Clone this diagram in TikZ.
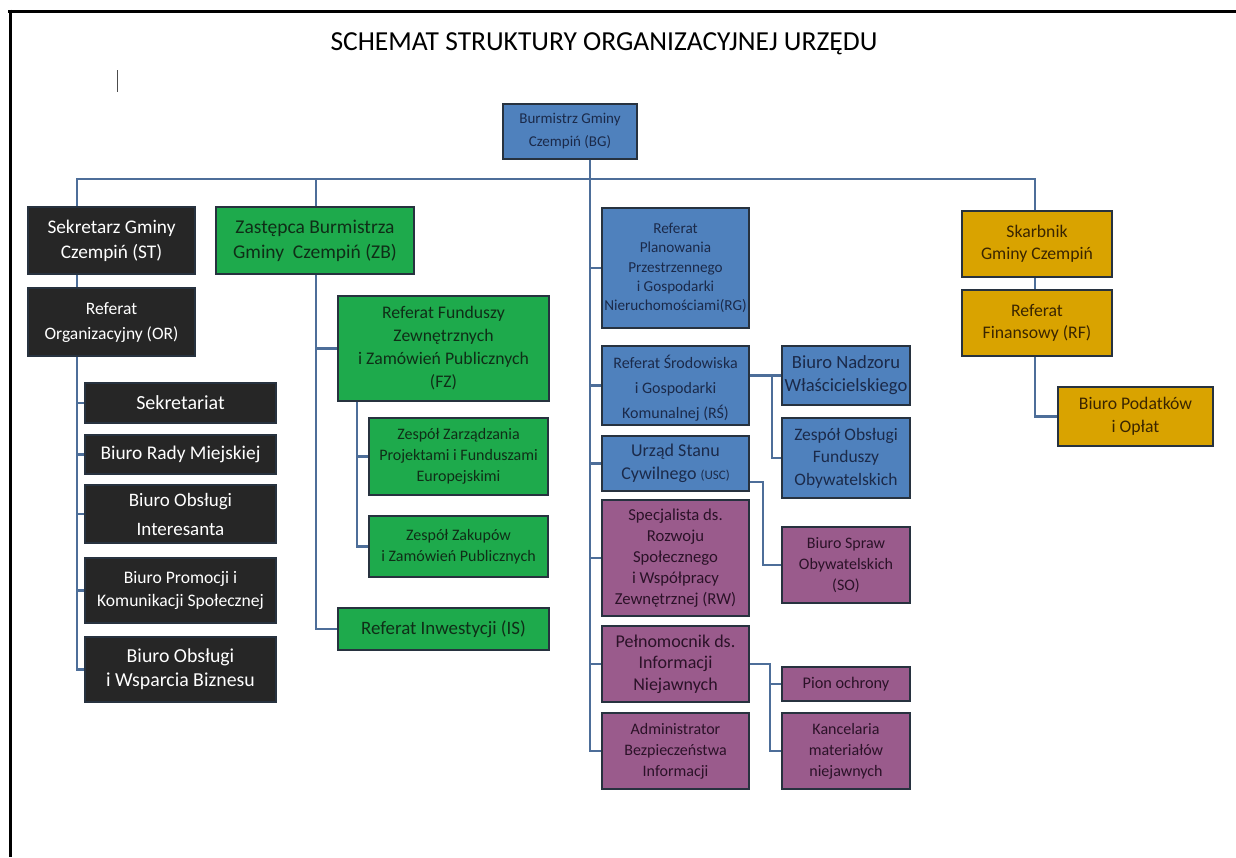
\documentclass[tikz,border=0pt]{standalone}
\usepackage{fontspec}
\setmainfont{Carlito}
\definecolor{boxline}{HTML}{27323F}
\definecolor{connc}{HTML}{4D6E99}
\definecolor{bkfill}{HTML}{262626}
\definecolor{grfill}{HTML}{1EAA4C}
\definecolor{grtext}{HTML}{0F2E17}
\definecolor{blfill}{HTML}{4F81BD}
\definecolor{bltext}{HTML}{1B2A4A}
\definecolor{pufill}{HTML}{9A5B8C}
\definecolor{putext}{HTML}{2B1228}
\definecolor{gofill}{HTML}{D9A300}
\definecolor{gotext}{HTML}{3A2500}
\newcommand\ubox[7]{\node[#6, minimum width={(#4)-(#2)}, minimum height={(#5)-(#3)}] (#1) at ({((#2)+(#4))/2},{((#3)+(#5))/2}) {#7};}
\newcommand\fsz[2]{\fontsize{#1}{#2}\selectfont}
\begin{document}
\begin{tikzpicture}[x=1pt,y=-1pt,
  box/.style={draw=boxline, line width=1.9pt, inner sep=1pt, align=center},
  bk/.style={box, fill=bkfill, text=white},
  gr/.style={box, fill=grfill, text=grtext},
  bl/.style={box, fill=blfill, text=bltext},
  pu/.style={box, fill=pufill, text=putext},
  go/.style={box, fill=gofill, text=gotext},
  conn/.style={draw=connc, line width=2.8pt}]
\useasboundingbox[fill=white] (0,0) rectangle (1236,857);
% frame
\draw[line width=3pt] (8,11) -- (1236,11);
\draw[line width=3pt] (10,9.5) -- (10,857);
\draw[line width=1pt, black!70] (117,70) -- (117,92);
\node[font=\fsz{27.5}{33}] (title) at (604,44) {SCHEMAT STRUKTURY ORGANIZACYJNEJ URZĘDU};
% boxes
\ubox{BG}{503}{104}{637}{159}{bl, font=\fsz{15}{23}}{Burmistrz Gminy\\Czempiń (BG)}
\ubox{ST}{28}{207}{195}{274}{bk, font=\fsz{19.3}{25}}{Sekretarz Gminy\\Czempiń (ST)}
\ubox{OR}{28}{288}{195}{356}{bk, font=\fsz{17.5}{25}}{Referat\\Organizacyjny (OR)}
\ubox{SEK}{85}{383}{276}{423}{bk, font=\fsz{20}{24}}{Sekretariat}
\ubox{BRM}{85}{435}{276}{474}{bk, font=\fsz{19.4}{24}}{Biuro Rady Miejskiej}
\ubox{BOI}{85}{485}{276}{543}{bk, font=\fsz{19}{29}}{Biuro Obsługi\\Interesanta}
\ubox{BPK}{85}{558}{276}{623}{bk, font=\fsz{17.6}{23}}{Biuro Promocji i\\Komunikacji Społecznej}
\ubox{BOW}{85}{637}{276}{702}{bk, font=\fsz{19.8}{24}}{Biuro Obsługi\\i Wsparcia Biznesu}
\ubox{ZB}{216}{207}{414}{274}{gr, font=\fsz{19.5}{25}}{Zastępca Burmistrza\\Gminy\ \ Czempiń (ZB)}
\ubox{FZ}{338}{296}{549}{401}{gr, font=\fsz{17.7}{23}}{Referat Funduszy\\Zewnętrznych\\i Zamówień Publicznych\\(FZ)}
\ubox{ZZP}{369}{418}{548}{495}{gr, font=\fsz{16}{21}}{Zespół Zarządzania\\Projektami i Funduszami\\Europejskimi}
\ubox{ZZ}{369}{516}{548}{577}{gr, font=\fsz{16}{21}}{Zespół Zakupów\\i Zamówień Publicznych}
\ubox{IS}{338}{608}{549}{650}{gr, font=\fsz{18.9}{22}}{Referat Inwestycji (IS)}
\ubox{RG}{602}{208}{749}{328}{bl, font=\fsz{15.2}{19.3}}{Referat\\Planowania\\Przestrzennego\\i Gospodarki\\Nieruchomościami(RG)}
\ubox{RS}{602}{346}{749}{425}{bl, font=\fsz{16}{25}}{\rule{0pt}{18pt}Referat Środowiska\\i Gospodarki\\Komunalnej (RŚ)}
\ubox{USC}{602}{436}{749}{491}{bl, font=\fsz{18}{23}}{Urząd Stanu\\Cywilnego {\fsz{13}{15}(USC)}}
\ubox{RW}{602}{500}{749}{616}{pu, font=\fsz{16.7}{21}}{Specjalista ds.\\Rozwoju\\Społecznego\\i Współpracy\\Zewnętrznej (RW)}
\ubox{PN}{602}{626}{749}{702}{pu, font=\fsz{18}{21.5}}{Pełnomocnik ds.\\Informacji\\Niejawnych}
\ubox{ABI}{602}{713}{749}{789}{pu, font=\fsz{16}{21}}{Administrator\\Bezpieczeństwa\\Informacji}
\ubox{BNW}{782}{346}{910}{405}{bl, font=\fsz{18.6}{23}}{Biuro Nadzoru\\Właścicielskiego}
\ubox{ZOF}{782}{418}{910}{498}{bl, font=\fsz{17.5}{22.5}}{Zespół Obsługi\\Funduszy\\Obywatelskich}
\ubox{BSO}{782}{527}{910}{603}{pu, font=\fsz{16}{21}}{Biuro Spraw\\Obywatelskich\\(SO)}
\ubox{PO}{782}{667}{910}{701}{pu, font=\fsz{16.3}{20}}{Pion ochrony}
\ubox{KMN}{782}{713}{910}{789}{pu, font=\fsz{16}{21}}{Kancelaria\\materiałów\\niejawnych}
\ubox{SK}{962}{211}{1112}{277}{go, font=\fsz{17.7}{22}}{Skarbnik\\Gminy Czempiń}
\ubox{RF}{962}{290}{1112}{356}{go, font=\fsz{17.7}{22}}{Referat\\Finansowy (RF)}
\ubox{BPO}{1058}{387}{1213}{446}{go, font=\fsz{17.7}{23}}{Biuro Podatków\\i Opłat}
% connectors
\coordinate (bl) at (77,179);
\coordinate (br) at (1035,179);
\coordinate (bz) at (316,179);
\coordinate (st) at (590,179);
\coordinate (fzx) at (357,0);
\coordinate (rsx) at (772,0);
\coordinate (ux) at (763,482);
\coordinate (px) at (770,0);
\draw[conn] (bl |- ST.north) -- (bl) -- (br) -- (br |- SK.north);
\draw[conn] (bz) -- (bz |- ZB.north);
\draw[conn] (st |- BG.south) -- (st |- ABI.west) -- (ABI.west);
\foreach \n in {RG,RS,USC,RW,PN} \draw[conn] (st |- \n.west) -- (\n.west);
\draw[conn] (bl |- ST.south) -- (bl |- OR.north);
\draw[conn] (bl |- OR.south) -- (bl |- BOW.west) -- (BOW.west);
\foreach \n in {SEK,BRM,BOI,BPK} \draw[conn] (bl |- \n.west) -- (\n.west);
\draw[conn] (bz |- ZB.south) -- (bz |- IS.west) -- (IS.west);
\draw[conn] (bz |- FZ.west) -- (FZ.west);
\draw[conn] (fzx |- FZ.south) -- (fzx |- ZZ.west) -- (ZZ.west);
\draw[conn] (fzx |- ZZP.west) -- (ZZP.west);
\draw[conn] (RS.east |- BNW.west) -- (BNW.west);
\draw[conn] (rsx |- BNW.west) -- (rsx |- ZOF.west) -- (ZOF.west);
\draw[conn] (USC.east |- ux) -- (ux) -- (ux |- BSO.west) -- (BSO.west);
\draw[conn] (PN.east) -- (px |- PN.east) -- (px |- KMN.west) -- (KMN.west);
\draw[conn] (px |- PO.west) -- (PO.west);
\draw[conn] (br |- SK.south) -- (br |- RF.north);
\draw[conn] (br |- RF.south) -- (br |- BPO.west) -- (BPO.west);
\end{tikzpicture}
\end{document}
